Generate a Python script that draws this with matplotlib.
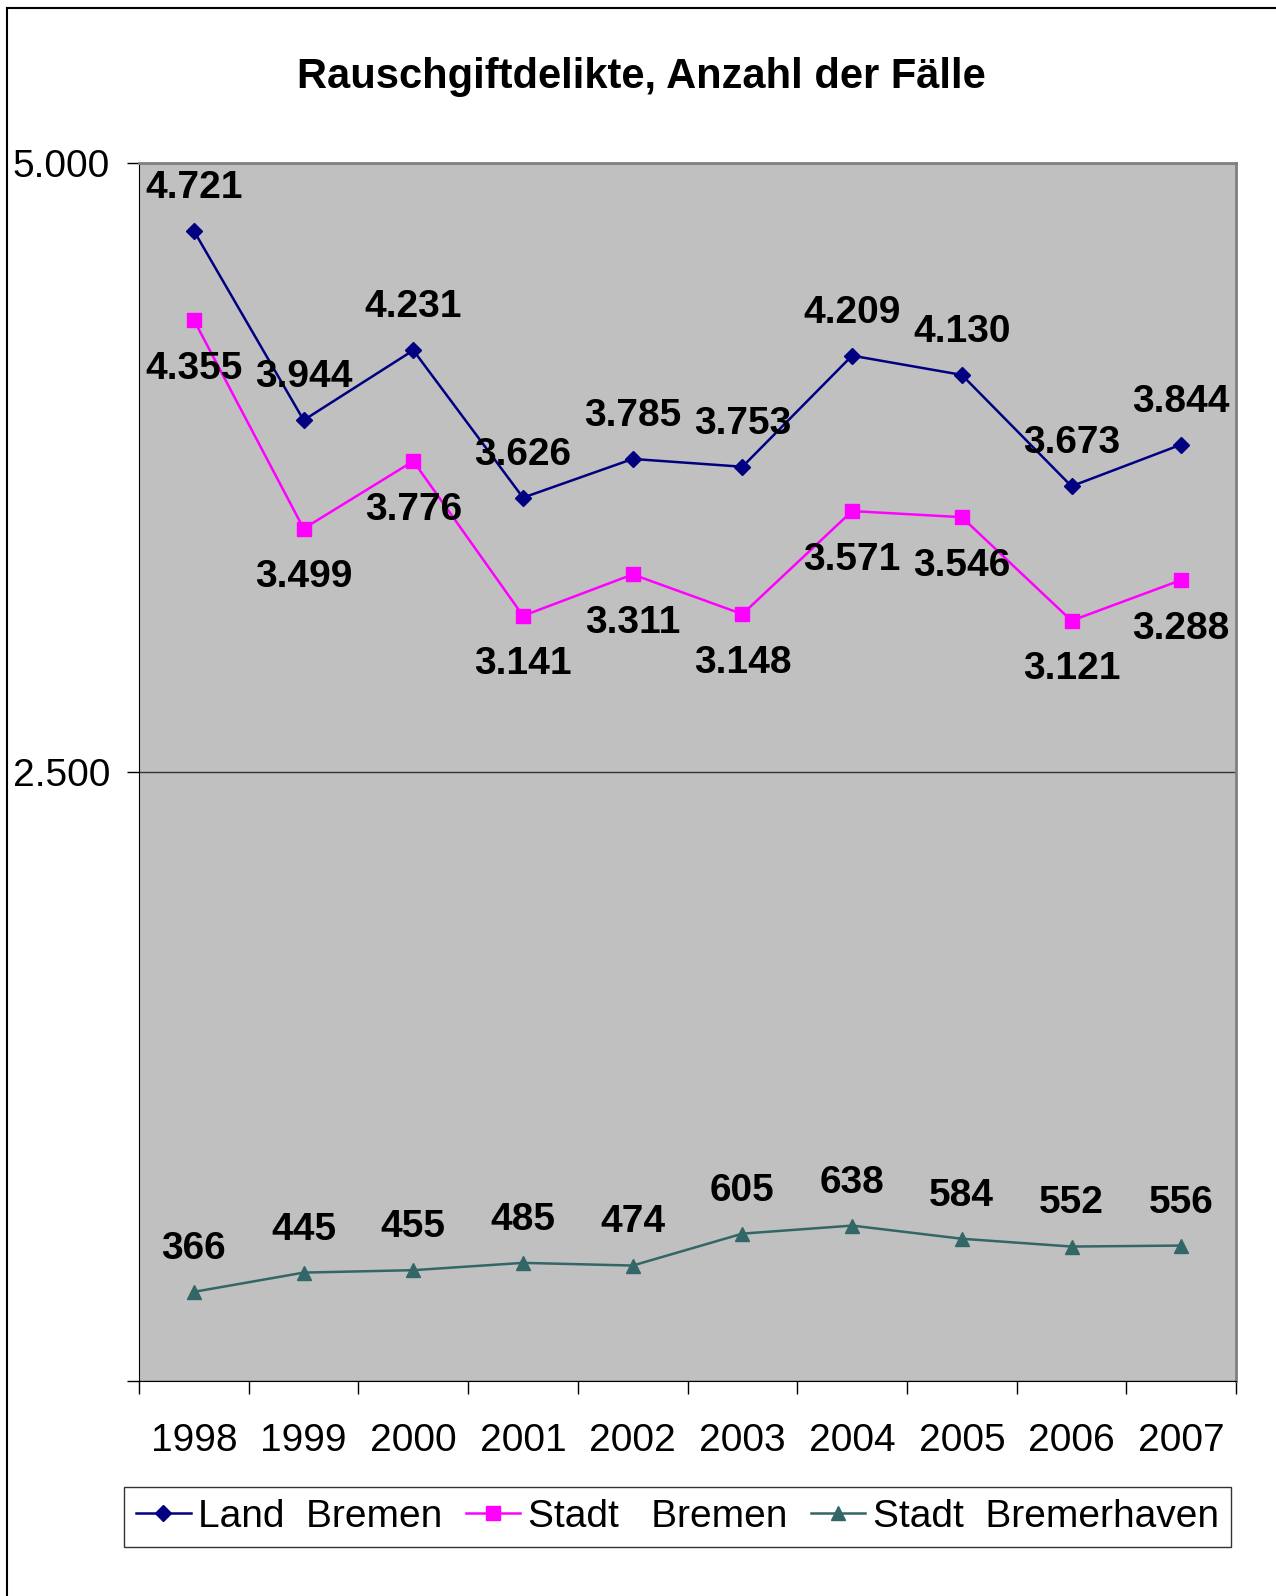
import matplotlib.pyplot as plt
from matplotlib.lines import Line2D

plt.rcParams['font.family'] = ['Liberation Sans', 'DejaVu Sans']

# Daten
years = ['1998', '1999', '2000', '2001', '2002', '2003', '2004', '2005', '2006', '2007']
land_bremen = [4721, 3944, 4231, 3626, 3785, 3753, 4209, 4130, 3673, 3844]
stadt_bremen = [4355, 3499, 3776, 3141, 3311, 3148, 3571, 3546, 3121, 3288]
bremerhaven = [366, 445, 455, 485, 474, 605, 638, 584, 552, 556]

def fmt(v):
    # deutsche Tausendertrennung
    return f'{v:,}'.replace(',', '.')

fig = plt.figure(figsize=(12.76, 15.96), dpi=100)
ax = fig.add_axes([0.109, 0.1347, 0.8597, 0.7632])
ax.set_facecolor('#C0C0C0')

x = list(range(len(years)))
l1, = ax.plot(x, land_bremen, color='#000080', marker='D', markersize=8, lw=1.8)
l2, = ax.plot(x, stadt_bremen, color='#FF00FF', marker='s', markersize=10, lw=1.8)
l3, = ax.plot(x, bremerhaven, color='#336666', marker='^', markersize=10, lw=1.8)

# Beschriftungen der Datenpunkte
for xi, v in zip(x, land_bremen):
    ax.annotate(fmt(v), (xi, v), xytext=(0, 31), textcoords='offset points',
                ha='center', va='center', fontsize=28, fontweight='bold')
for xi, v in zip(x, stadt_bremen):
    ax.annotate(fmt(v), (xi, v), xytext=(0, -35), textcoords='offset points',
                ha='center', va='center', fontsize=28, fontweight='bold')
for xi, v in zip(x, bremerhaven):
    ax.annotate(fmt(v), (xi, v), xytext=(0, 31), textcoords='offset points',
                ha='center', va='center', fontsize=28, fontweight='bold')

ax.set_xlim(-0.5, len(years) - 0.5)
ax.set_ylim(0, 5000)
ax.set_yticks([0, 2500, 5000])
ax.set_yticklabels(['', '2.500', '5.000'], fontsize=28)
ax.yaxis.grid(True, color='#333333', lw=1)
ax.set_axisbelow(True)

ax.set_xticks([i - 0.5 for i in range(len(years) + 1)])
ax.set_xticklabels([])
ax.set_xticks(x, minor=True)
ax.set_xticklabels(years, minor=True, fontsize=28)
ax.tick_params(axis='x', which='major', direction='out', length=9, width=1)
ax.tick_params(axis='x', which='minor', length=0, pad=30)
ax.tick_params(axis='y', direction='out', length=9, width=1, pad=12)

for s in ['top', 'right']:
    ax.spines[s].set_color('#808080')
    ax.spines[s].set_linewidth(2)
ax.spines['left'].set_color('#000000')
ax.spines['bottom'].set_color('#000000')

fig.text(0.503, 0.952, 'Rauschgiftdelikte, Anzahl der Fälle', ha='center', va='center',
         fontsize=30, fontweight='bold')

leg = fig.legend([l1, l2, l3], ['Land  Bremen', 'Stadt   Bremen', 'Stadt  Bremerhaven'],
                 loc='center', bbox_to_anchor=(0.531, 0.0495), ncol=3, fontsize=28,
                 frameon=True, fancybox=False, edgecolor='#000000', handlelength=1.4,
                 handletextpad=0.2, columnspacing=0.6, borderpad=0.3, borderaxespad=0)
leg.get_frame().set_linewidth(1)

# äußerer Rahmen (links und oben)
fig.add_artist(Line2D([7 / 1276, 7 / 1276], [0, 1 - 8 / 1596], color='black', lw=1.5,
                      transform=fig.transFigure))
fig.add_artist(Line2D([7 / 1276, 1], [1 - 8 / 1596, 1 - 8 / 1596], color='black', lw=1.5,
                      transform=fig.transFigure))

fig.savefig('out.png', dpi=100)
